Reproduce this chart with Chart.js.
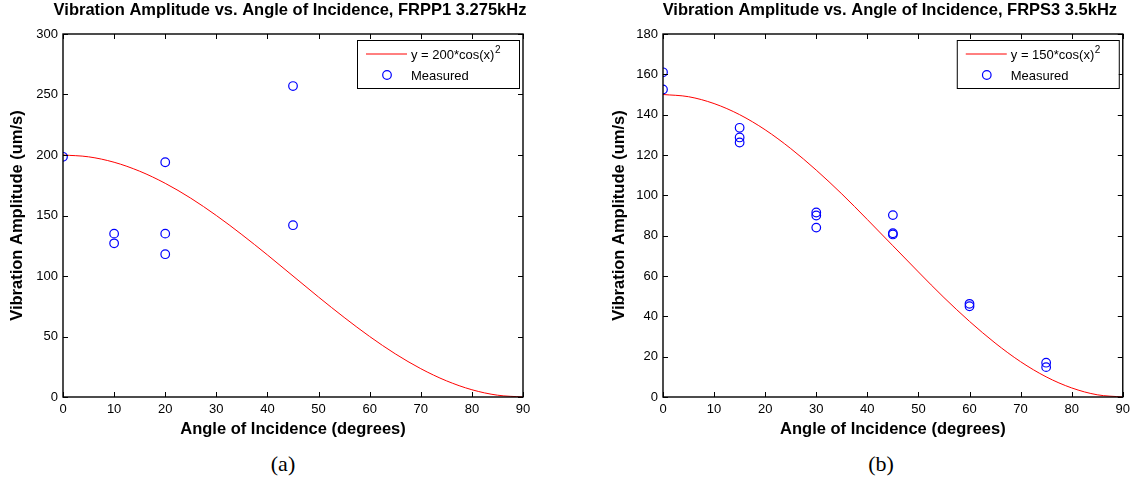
<!DOCTYPE html>
<html>
<head>
<meta charset="utf-8">
<script src="https://cdn.jsdelivr.net/npm/chart.js@4.4.1/dist/chart.umd.min.js"></script>
<style>
  body { margin: 0; background: #fff; width: 1135px; height: 479px; position: relative; overflow: hidden; }
  .panel { position: absolute; top: 0; height: 445px; }
  .cap { position: absolute; top: 451px; font-family: "Liberation Serif", "Times New Roman", serif; font-size: 22px; transform: translateX(-50%); color: #000; }
</style>
</head>
<body>
<div class="panel" style="left:0;width:560px"><canvas id="chartA"></canvas></div>
<div class="panel" style="left:560px;width:575px"><canvas id="chartB"></canvas></div>
<div class="cap" style="left:283px">(a)</div>
<div class="cap" style="left:881px">(b)</div>
<script>
// fitted curves, read every 5 degrees
const fitAngles = [0, 5, 10, 15, 20, 25, 30, 35, 40, 45, 50, 55, 60, 65, 70, 75, 80, 85, 90]
const fitA = [200, 198.5, 194, 186.6, 176.6, 164.3, 150, 134.2, 117.4, 100, 82.6, 65.8, 50, 35.7, 23.4, 13.4, 6.0, 1.5, 0]
const fitB = [150, 148.9, 145.5, 140, 132.5, 123.2, 112.5, 100.7, 88, 75, 62, 49.3, 37.5, 26.8, 17.5, 10, 4.5, 1.1, 0]

// measured points
const anglesA = [0, 10, 10, 20, 20, 20, 45, 45]
const measuredA = [198.5, 135, 127, 194, 135, 118, 257, 142]
const anglesB = [0, 0, 15, 15, 15, 30, 30, 30, 45, 45, 45, 60, 60, 75, 75]
const measuredB = [161, 152.5, 133.5, 128.7, 126.2, 91.5, 90, 84, 90.2, 81.2, 80.6, 46.2, 45, 17, 14.8]

const titleA = 'Vibration Amplitude vs. Angle of Incidence, FRPP1 3.275kHz'
const titleB = 'Vibration Amplitude vs. Angle of Incidence, FRPS3 3.5kHz'
const fitLabelA = 'y = 200*cos(x)^2'
const fitLabelB = 'y = 150*cos(x)^2'

const FONT = '"Liberation Sans", Arial, Helvetica, sans-serif'

function pairs(xs, ys) {
  return xs.map((x, i) => ({ x: x, y: ys[i] }))
}

// MATLAB style box, inward ticks, title and legend
const matlabPlugin = {
  id: 'matlab',
  afterDatasetsDraw(chart, args, opts) {
    const { ctx, chartArea: a, scales } = chart
    ctx.save()
    ctx.strokeStyle = '#000'
    ctx.lineWidth = 1.4
    ctx.strokeRect(a.left, a.top, a.right - a.left, a.bottom - a.top)
    ctx.lineWidth = 1
    ctx.beginPath()
    scales.x.ticks.forEach(t => {
      const px = Math.round(scales.x.getPixelForValue(t.value)) + 0.5
      ctx.moveTo(px, a.bottom); ctx.lineTo(px, a.bottom - 5)
      ctx.moveTo(px, a.top); ctx.lineTo(px, a.top + 5)
    })
    scales.y.ticks.forEach(t => {
      const py = Math.round(scales.y.getPixelForValue(t.value)) + 0.5
      ctx.moveTo(a.left, py); ctx.lineTo(a.left + 5, py)
      ctx.moveTo(a.right, py); ctx.lineTo(a.right - 5, py)
    })
    ctx.stroke()

    // title
    ctx.fillStyle = '#000'
    ctx.font = 'bold 16.5px ' + FONT
    ctx.textAlign = 'center'
    ctx.textBaseline = 'middle'
    ctx.fillText(opts.title, (a.left + a.right) / 2 - 3, a.top - 24)

    // legend
    const w = 162, h = 48
    const bx = a.right - 4 - w, by = a.top + 6
    ctx.fillStyle = '#fff'
    ctx.fillRect(bx, by, w, h)
    ctx.strokeStyle = '#000'
    ctx.lineWidth = 1
    ctx.strokeRect(bx + 0.5, by + 0.5, w, h)
    const fit = chart.data.datasets[0]
    const meas = chart.data.datasets[1]
    const r1 = by + 14, r2 = by + 35
    ctx.strokeStyle = fit.borderColor
    ctx.beginPath()
    ctx.moveTo(bx + 9, r1); ctx.lineTo(bx + 50, r1)
    ctx.stroke()
    ctx.strokeStyle = meas.borderColor
    ctx.lineWidth = 1.2
    ctx.beginPath()
    ctx.arc(bx + 30, r2, 4.3, 0, Math.PI * 2)
    ctx.stroke()
    ctx.fillStyle = '#000'
    ctx.textAlign = 'left'
    ctx.textBaseline = 'middle'
    ctx.font = '13px ' + FONT
    const parts = fit.label.split('^')
    ctx.fillText(parts[0], bx + 54, r1 + 1)
    const tw = ctx.measureText(parts[0]).width
    ctx.font = '10px ' + FONT
    ctx.fillText(parts[1], bx + 54 + tw + 0.5, r1 - 4)
    ctx.font = '13px ' + FONT
    ctx.fillText(meas.label, bx + 54, r2 + 1)
    ctx.restore()
  }
}

function makeChart(id, title, fitLabel, fit, xs, ys, yMax, yStep, padLeft, axisWidth, titlePad, padRight) {
  return new Chart(document.getElementById(id), {
    type: 'scatter',
    data: {
      datasets: [{
        label: fitLabel,
        data: pairs(fitAngles, fit),
        showLine: true,
        borderColor: '#ff0000',
        borderWidth: 1,
        pointRadius: 0,
        cubicInterpolationMode: 'monotone',
        order: 2
      }, {
        label: 'Measured',
        data: pairs(xs, ys),
        showLine: false,
        borderColor: '#0000ff',
        backgroundColor: 'rgba(0,0,0,0)',
        borderWidth: 1.2,
        pointRadius: 4.3,
        pointHoverRadius: 4.3,
        order: 1
      }]
    },
    options: {
      responsive: true,
      maintainAspectRatio: false,
      animation: false,
      layout: { padding: { top: 34, right: padRight, bottom: 0, left: padLeft } },
      plugins: {
        legend: { display: false },
        tooltip: { enabled: false },
        title: { display: false },
        matlab: { title: title }
      },
      scales: {
        x: {
          type: 'linear',
          min: 0,
          max: 90,
          grid: { display: false, drawTicks: false },
          border: { display: false },
          ticks: { stepSize: 10, color: '#000', font: { family: FONT, size: 13 }, padding: 5, maxRotation: 0 },
          title: { display: true, text: 'Angle of Incidence (degrees)', color: '#000', font: { family: FONT, size: 16.5, weight: 'bold' }, padding: { top: 0, bottom: 6 } },
          afterFit: s => { s.height = 48 }
        },
        y: {
          type: 'linear',
          min: 0,
          max: yMax,
          grid: { display: false, drawTicks: false },
          border: { display: false },
          ticks: { stepSize: yStep, color: '#000', font: { family: FONT, size: 13 }, padding: 5 },
          title: { display: true, text: 'Vibration Amplitude (um/s)', color: '#000', font: { family: FONT, size: 16.5, weight: 'bold' }, padding: { top: titlePad, bottom: 0 } },
          afterFit: s => { s.width = axisWidth }
        }
      }
    },
    plugins: [matlabPlugin]
  })
}

makeChart('chartA', titleA, fitLabelA, fitA, anglesA, measuredA, 300, 50, 0, 63, 8, 37)
makeChart('chartB', titleB, fitLabelB, fitB, anglesB, measuredB, 180, 20, 50, 53, 0, 12)
</script>
</body>
</html>
